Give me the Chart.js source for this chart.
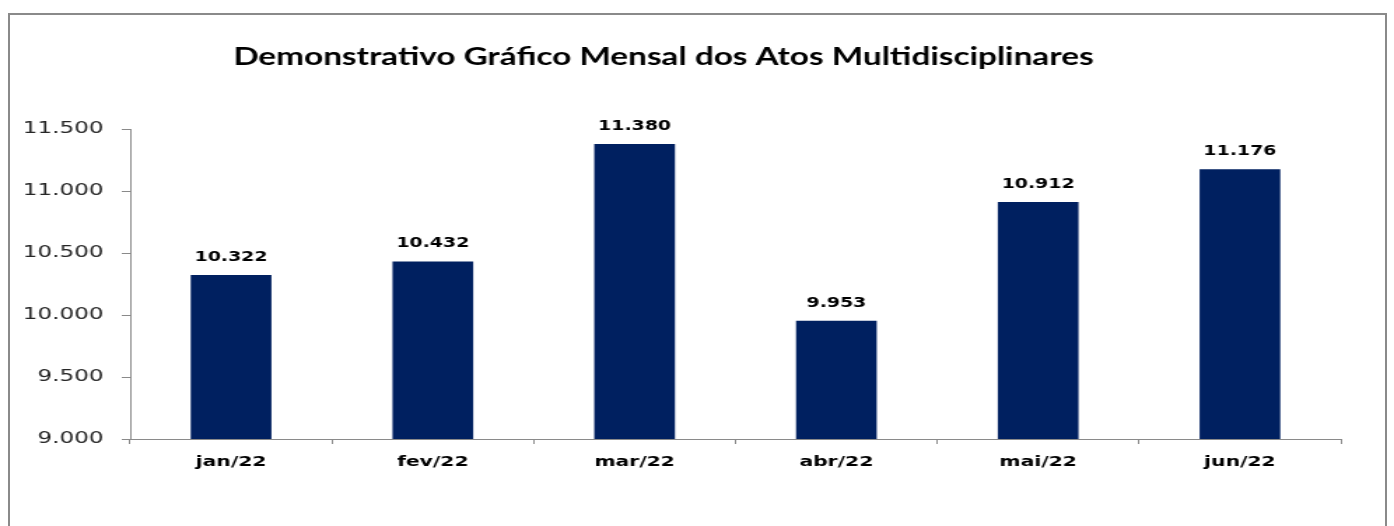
<!DOCTYPE html>
<html>
<head>
<meta charset="utf-8">
<script src="https://cdn.jsdelivr.net/npm/chart.js@4"></script>
<style>
  html, body { margin: 0; padding: 0; background: #fff; overflow: hidden; }
  #frame {
    position: absolute; left: 8px; top: 13px; width: 1379px; height: 600px;
    border: 2px solid #8a8a8a; box-sizing: border-box;
  }
  #wrap {
    position: absolute; left: 0; top: 0; width: 996px; height: 526px;
    transform: scaleX(1.3996); transform-origin: 0 0;
  }
</style>
</head>
<body>
<div id="frame"></div>
<div id="wrap"><canvas id="chart" width="996" height="526"></canvas></div>
<script>
const chartTitle = 'Demonstrativo Gráfico Mensal dos Atos Multidisciplinares';
const categories = ['jan/22', 'fev/22', 'mar/22', 'abr/22', 'mai/22', 'jun/22'];
const atos = [10322, 10432, 11380, 9953, 10912, 11176];
const yMin = 9000;
const yMax = 11500;
const yStep = 500;

// separador de milhar com ponto
const fmt = (v) => String(v).replace(/\B(?=(\d{3})+(?!\d))/g, '.');

const titlePlugin = {
  id: 'titlePlugin',
  afterDraw: (chart) => {
    const ctx = chart.ctx;
    ctx.save();
    ctx.font = 'bold 23.8px Lato';
    ctx.fillStyle = '#000';
    ctx.textAlign = 'center';
    ctx.textBaseline = 'middle';
    ctx.fillText(chartTitle, 474, 57);
    ctx.restore();
  }
};

const valueLabels = {
  id: 'valueLabels',
  afterDatasetsDraw: (chart) => {
    const ctx = chart.ctx;
    const meta = chart.getDatasetMeta(0);
    ctx.save();
    ctx.font = 'bold 13.5px "DejaVu Sans"';
    ctx.fillStyle = '#000';
    ctx.textAlign = 'center';
    ctx.textBaseline = 'alphabetic';
    meta.data.forEach((bar, i) => {
      ctx.fillText(fmt(atos[i]), bar.x, bar.y - 14);
    });
    ctx.restore();
  }
};

new Chart('chart', {
  type: 'bar',
  data: {
    labels: categories,
    datasets: [{
      data: atos,
      backgroundColor: '#002060',
      categoryPercentage: 1,
      barPercentage: 0.4
    }]
  },
  options: {
    responsive: false,
    animation: false,
    layout: { padding: { top: 129, right: 38, left: 0, bottom: 0 } },
    plugins: {
      legend: { display: false },
      tooltip: { enabled: false },
      title: { display: false }
    },
    scales: {
      x: {
        afterFit: (scale) => { scale.height = 87; },
        grid: {
          drawOnChartArea: false,
          drawTicks: true,
          tickLength: 5,
          color: '#8a8a8a',
          offset: true
        },
        border: { display: true, color: '#8a8a8a', width: 1 },
        ticks: {
          padding: 10,
          color: '#000',
          font: { family: 'DejaVu Sans', size: 14.5, weight: 'bold' }
        }
      },
      y: {
        min: yMin,
        max: yMax,
        afterFit: (scale) => { scale.width = 93; },
        grid: {
          drawOnChartArea: false,
          drawTicks: true,
          tickLength: 6,
          color: '#8a8a8a'
        },
        border: { display: true, color: '#8a8a8a', width: 1 },
        ticks: {
          stepSize: yStep,
          padding: 13,
          color: '#262626',
          font: { family: 'DejaVu Sans', size: 16.5 },
          callback: (v) => fmt(v)
        }
      }
    }
  },
  plugins: [titlePlugin, valueLabels]
});
</script>
</body>
</html>
